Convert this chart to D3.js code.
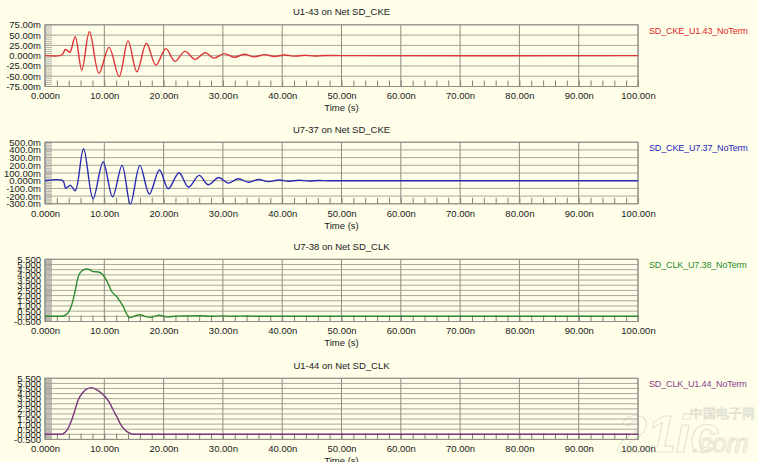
<!DOCTYPE html>
<html><head><meta charset="utf-8">
<script src="https://cdn.jsdelivr.net/npm/d3@7/dist/d3.min.js"></script>
<style>
body{margin:0;background:#fefee9}
svg{display:block}
text{font-family:"Liberation Sans",Arial,sans-serif}
</style></head>
<body><svg id="c" width="758" height="462"></svg>
<script>
// ---------- data ----------
const xTickValues = [0,10,20,30,40,50,60,70,80,90,100];
const xTickLabels = ["0.000n","10.00n","20.00n","30.00n","40.00n","50.00n","60.00n","70.00n","80.00n","90.00n","100.00n"];

const titles  = ["U1-43 on Net SD_CKE","U7-37 on Net SD_CKE","U7-38 on Net SD_CLK","U1-44 on Net SD_CLK"];
const legends = ["SD_CKE_U1.43_NoTerm","SD_CKE_U7.37_NoTerm","SD_CLK_U7.38_NoTerm","SD_CLK_U1.44_NoTerm"];

const yTicks1 = [75,50,25,0,-25,-50,-75];
const yLabels1 = ["75.00m","50.00m","25.00m","0.000m","-25.00m","-50.00m","-75.00m"];
const yTicks2 = [500,400,300,200,100,0,-100,-200,-300];
const yLabels2 = ["500.0m","400.0m","300.0m","200.0m","100.00m","0.000m","-100.0m","-200.0m","-300.0m"];
const yTicksV = [5.5,5,4.5,4,3.5,3,2.5,2,1.5,1,0.5,0,-0.5];
const yLabelsV = ["5.500","5.000","4.500","4.000","3.500","3.000","2.500","2.000","1.500","1.000","0.500","0.000","-0.500"];

// time in ns, value in mV
const cke143Time  = [0,2.5,3.0,3.4,3.8,4.2,5.1,6.2,7.5,9.1,10.8,12.5,14.0,15.5,17.1,18.7,20.4,21.9,23.6,25.3,27.0,28.5,30.2,31.9,33.6,35.3,37.0,38.7,40.4,42.1,43.8,45.5,47.2,50,100];
const cke143Value = [0,0,4,15,12,8,46,-35,58,-43,20,-51,36,-39,30,-23,17,-14,10.5,-9,7,-6,5,-4,3.5,-3,2.5,-2,1.5,-1.2,1,-0.7,0.5,0,0];

// time in ns, value in mV
const cke737Time  = [0,3.0,3.5,4.3,5.1,6.5,8.1,9.8,11.4,13.0,14.4,16.0,17.6,19.3,20.8,22.6,24.2,26.0,27.5,29.3,30.9,32.6,34.3,36.0,37.7,39.4,41.1,42.8,44.5,46.2,48,100];
const cke737Value = [0,0,-95,-60,-130,415,-234,242,-208,199,-303,199,-173,139,-104,104,-82,69,-52,41,-32,25,-20,15,-12,9,-7,5,-4,2,0,0];

// time in ns, value in V
const clk738Time  = [0,2.8,3.65,4.5,5.06,5.6,6.2,7.0,7.6,8.1,9.0,9.55,10.1,10.7,11.2,12.1,12.6,13.2,13.8,14.3,15.0,16.0,16.9,17.7,19.3,20.5,22.2,23.9,26,28,30,32,34,36,40,100];
const clk738Value = [0,0,0.19,1.09,2.38,3.83,4.37,4.57,4.47,4.31,4.28,4.12,3.73,3.09,2.44,1.9,1.48,0.93,0.19,-0.13,0,0.15,0,-0.1,0.1,-0.05,0.02,0.04,0.05,0.0,0.04,0.0,0.03,0.0,0,0];

// time in ns, value in V
const clk144Time  = [0,2.8,3.4,3.9,4.5,5.06,5.6,6.35,7.0,7.87,8.7,9.55,10.3,10.95,11.5,12.1,12.75,13.5,14.2,14.9,100];
const clk144Value = [0,0,0.2,0.59,1.4,2.39,3.37,4.08,4.44,4.58,4.38,4.02,3.59,3.04,2.39,1.73,0.98,0.42,0.13,0,0];

// ---------- layout ----------
const panels = [
  {top:24.8, bottom:86.5, dom:[-75,75], ticks:yTicks1, labels:yLabels1, minor:5, t:cke143Time, v:cke143Value, color:"#dc3434", lcolor:"#e02424", smooth:true},
  {top:142.2, bottom:203.8, dom:[-300,500], ticks:yTicks2, labels:yLabels2, minor:20, t:cke737Time, v:cke737Value, color:"#2a2ab2", lcolor:"#2626c0", smooth:true},
  {top:259.3, bottom:321.5, dom:[-0.5,5.5], ticks:yTicksV, labels:yLabelsV, minor:0.1, t:clk738Time, v:clk738Value, color:"#2e8a2e", lcolor:"#2a8a2a", smooth:false},
  {top:378.3, bottom:439.4, dom:[-0.5,5.5], ticks:yTicksV, labels:yLabelsV, minor:0.1, t:clk144Time, v:clk144Value, color:"#7a367a", lcolor:"#8a3a8a", smooth:false}
];
const L = 45, R = 638;
const svg = d3.select("#c");
svg.append("rect").attr("width",758).attr("height",462).attr("fill","#fefee9");

const x = d3.scaleLinear().domain([0,100]).range([L,R]);

panels.forEach((p,i)=>{
  const y = d3.scaleLinear().domain(p.dom).range([p.bottom,p.top]);
  const g = svg.append("g");
  g.selectAll(".hg").data(p.ticks).enter().append("line")
    .attr("x1",L).attr("x2",R).attr("y1",d=>y(d)).attr("y2",d=>y(d))
    .attr("stroke","#a8a89c").attr("stroke-width",1);
  g.selectAll(".vg").data(xTickValues).enter().append("line")
    .attr("y1",p.top).attr("y2",p.bottom).attr("x1",d=>x(d)).attr("x2",d=>x(d))
    .attr("stroke","#8e8e88").attr("stroke-width",1);
  const nMinor = Math.round((p.dom[1]-p.dom[0])/p.minor);
  const minorY = d3.range(nMinor+1).map(k=>p.dom[0]+k*p.minor);
  g.selectAll(".ym").data(minorY).enter().append("line")
    .attr("x1",L).attr("x2",L+7).attr("y1",d=>y(d)).attr("y2",d=>y(d))
    .attr("stroke","#a0a098").attr("stroke-width",0.8);
  const minorX = d3.range(0,101,2);
  g.append("g").attr("transform",`translate(0,${p.bottom})`)
    .call(d3.axisBottom(x).tickValues(minorX).tickSize(-6).tickFormat(""))
    .call(a=>{a.select(".domain").remove(); a.selectAll("line").attr("stroke","#808078");});
  g.append("g").attr("transform",`translate(0,${p.bottom})`)
    .call(d3.axisBottom(x).tickValues(xTickValues).tickSize(0).tickPadding(6).tickFormat((d,k)=>xTickLabels[k]))
    .call(a=>{a.select(".domain").remove(); a.selectAll("text").attr("font-size",9.5).attr("fill","#1a1a1a").attr("font-family","'Liberation Sans',Arial,sans-serif");});
  g.append("g").attr("transform",`translate(${L},0)`)
    .call(d3.axisLeft(y).tickValues(p.ticks).tickSize(0).tickPadding(4).tickFormat((d,k)=>p.labels[k]))
    .call(a=>{a.select(".domain").remove(); a.selectAll("text").attr("font-size",9.5).attr("fill","#1a1a1a").attr("font-family","'Liberation Sans',Arial,sans-serif");});
  g.append("rect").attr("x",L).attr("y",p.top).attr("width",R-L).attr("height",p.bottom-p.top)
    .attr("fill","none").attr("stroke","#8e8e88").attr("stroke-width",1);
  svg.append("clipPath").attr("id","clip"+i).append("rect")
    .attr("x",L).attr("y",p.top-1).attr("width",R-L).attr("height",p.bottom-p.top+2);
  const pts = p.t.map((t,k)=>[t,p.v[k]]);
  const line = d3.line().x(d=>x(d[0])).y(d=>y(d[1]))
    .curve(p.smooth ? d3.curveCatmullRom.alpha(0.5) : d3.curveMonotoneX);
  g.append("path").datum(pts).attr("d",line).attr("fill","none")
    .attr("stroke",p.color).attr("stroke-width",1.4).attr("clip-path",`url(#clip${i})`);
  g.append("text").attr("x",(L+R)/2).attr("y",p.top-13).attr("dy","0.35em")
    .attr("text-anchor","middle").attr("font-size",9.5).attr("fill","#1a1a1a").text(titles[i]);
  g.append("text").attr("x",649).attr("y",p.top+6).attr("dy","0.35em")
    .attr("font-size",9).attr("letter-spacing","-0.15").attr("fill",p.lcolor).text(legends[i]);
  g.append("text").attr("x",(L+R)/2).attr("y",p.bottom+21.5).attr("dy","0.35em")
    .attr("text-anchor","middle").attr("font-size",9.5).attr("fill","#1a1a1a").text("Time (s)");
});

// faint watermark
const wm = svg.append("g").attr("opacity",0.35);
wm.append("text").attr("x",618).attr("y",452).attr("font-size",52).attr("font-weight","bold")
  .attr("fill","none").attr("stroke","#b8b8b0").attr("stroke-width",1.2).attr("font-style","italic").text("21ic");
wm.append("text").attr("x",690).attr("y",418).attr("font-size",12.5).attr("fill","none")
  .attr("stroke","#b0b0a8").attr("stroke-width",0.8).attr("font-family","'Noto Sans CJK SC'").text("中国电子网");
wm.append("text").attr("x",692).attr("y",452).attr("font-size",26).attr("font-style","italic")
  .attr("fill","none").attr("stroke","#b0b0a8").attr("stroke-width",1).text(".com");
</script></body></html>
